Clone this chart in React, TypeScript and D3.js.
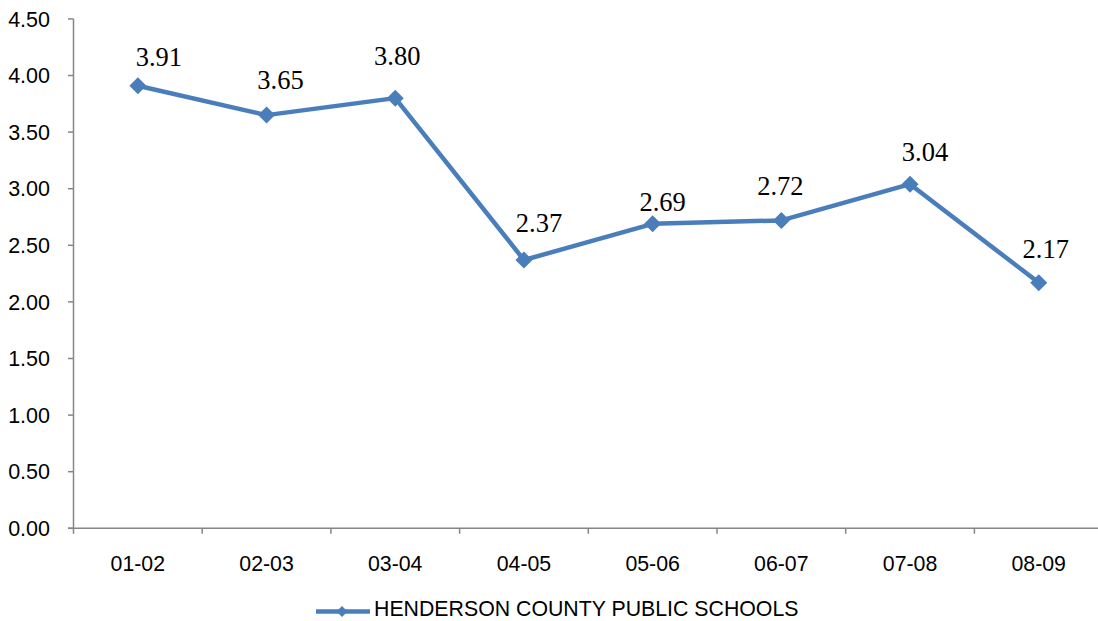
import React from "react";
import * as d3 from "d3";

const categories = ["01-02", "02-03", "03-04", "04-05", "05-06", "06-07", "07-08", "08-09"];
const values = [3.91, 3.65, 3.8, 2.37, 2.69, 2.72, 3.04, 2.17];
const yTicks = [0, 0.5, 1, 1.5, 2, 2.5, 3, 3.5, 4, 4.5];
const seriesName = "HENDERSON COUNTY PUBLIC SCHOOLS";

// manual label nudges (as placed in the original chart)
const labelDx = [21, 14, 2, 15, 10, -1, 15, 7];
const labelDy = [20, 26, 33, 28, 13, 25, 23, 25];

const W = 1098;
const H = 621;
const left = 73.5;
const bandW = 128.7;
const top = 18.9;
const bottom = 528.3;
const COLOR = "#4A7EBB";
const AXIS = "#868686";
const SANS = "'Liberation Sans', Arial, sans-serif";

export default function App() {
  const x = d3
    .scaleBand<string>()
    .domain(categories)
    .range([left, left + bandW * categories.length]);
  const y = d3.scaleLinear().domain([0, 4.5]).range([bottom, top]);
  const cx = (c: string) => (x(c) as number) + x.bandwidth() / 2;

  const line = d3
    .line<number>()
    .x((_, i) => cx(categories[i]))
    .y((v) => y(v));

  const diamond = (s: number) => `M0,${-s}L${s},0L0,${s}L${-s},0Z`;

  return (
    <svg
      width={W}
      height={H}
      style={{ position: "absolute", left: 0, top: 0, display: "block", background: "#fff" }}
    >
      {/* y axis */}
      <line x1={left} x2={left} y1={top} y2={bottom} stroke={AXIS} strokeWidth={1.5} />
      {yTicks.map((t) => (
        <g key={t}>
          <line x1={left - 5.5} x2={left} y1={y(t)} y2={y(t)} stroke={AXIS} strokeWidth={1.5} />
          <text x={50} y={y(t)} dy="0.36em" textAnchor="end" fontFamily={SANS} fontSize={21.5} fill="#000">
            {t.toFixed(2)}
          </text>
        </g>
      ))}
      {/* x axis */}
      <line x1={left - 5.5} x2={W} y1={bottom} y2={bottom} stroke={AXIS} strokeWidth={1.5} />
      {categories.map((c) => (
        <line
          key={"t" + c}
          x1={x(c) as number}
          x2={x(c) as number}
          y1={bottom}
          y2={bottom + 5.5}
          stroke={AXIS}
          strokeWidth={1.5}
        />
      ))}
      {categories.map((c) => (
        <text key={"l" + c} x={cx(c)} y={571} textAnchor="middle" fontFamily={SANS} fontSize={21.3} fill="#000">
          {c}
        </text>
      ))}
      {/* series */}
      <path d={line(values) || ""} fill="none" stroke={COLOR} strokeWidth={4.5} strokeLinejoin="round" />
      {values.map((v, i) => (
        <path
          key={"m" + i}
          d={diamond(8.5)}
          transform={`translate(${cx(categories[i])},${y(v)})`}
          fill={COLOR}
        />
      ))}
      {values.map((v, i) => (
        <text
          key={"d" + i}
          x={cx(categories[i]) + labelDx[i]}
          y={y(v) - labelDy[i]}
          textAnchor="middle"
          fontFamily="'Liberation Serif', serif"
          fontSize={26.5}
          fill="#000"
        >
          {v.toFixed(2)}
        </text>
      ))}
      {/* legend */}
      <line x1={316} x2={370} y1={611.5} y2={611.5} stroke={COLOR} strokeWidth={4.5} />
      <path d={diamond(5.5)} transform="translate(342,611.5)" fill={COLOR} />
      <text x={374} y={616.3} fontFamily={SANS} fontSize={21.3} fill="#000">
        {seriesName}
      </text>
    </svg>
  );
}
